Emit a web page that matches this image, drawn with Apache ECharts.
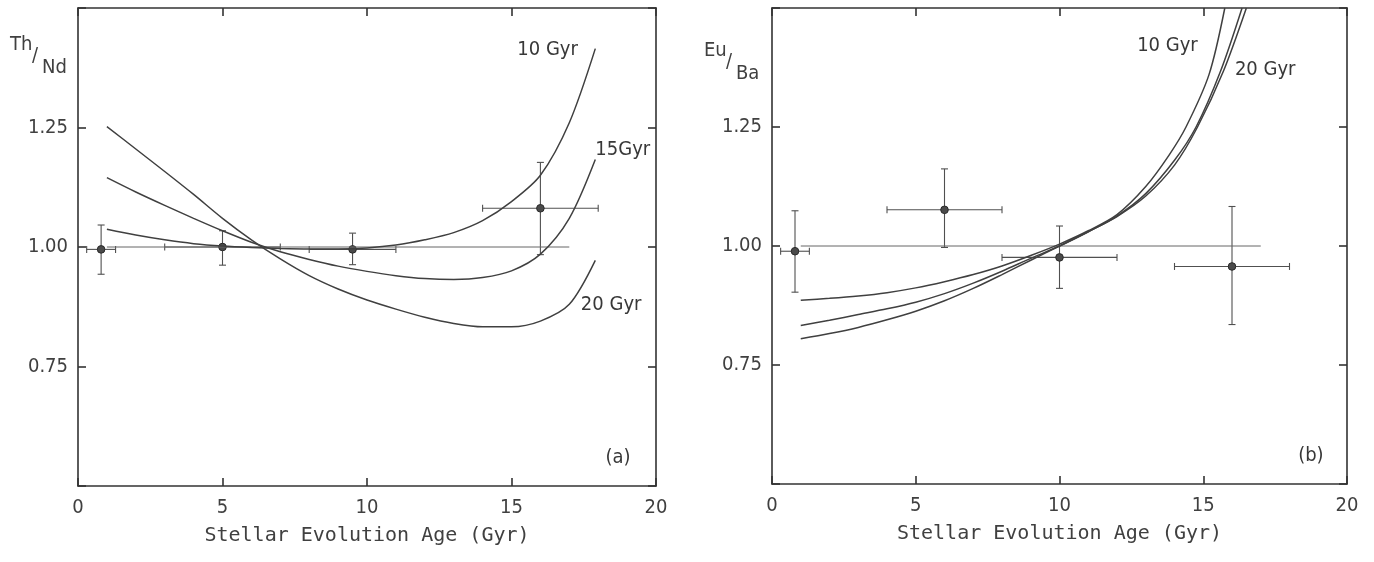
<!DOCTYPE html>
<html>
<head>
<meta charset="utf-8">
<script src="https://cdn.jsdelivr.net/npm/echarts@6/dist/echarts.min.js"></script>
<style>
    html, body { margin: 0; padding: 0; background: #fff; }
    #chart { width: 1374px; height: 562px; }
</style>
</head>
<body>
<div id="chart"></div>
<script>
    // ---- data ----
    // panel (a): Th/Nd
    var aPtX   = [0.8, 5, 9.5, 16];
    var aPtY   = [0.995, 1.0, 0.995, 1.081];
    var aPtXlo = [0.3, 3, 8, 14];
    var aPtXhi = [1.3, 7, 11, 18];
    var aPtYlo = [0.943, 0.962, 0.963, 0.984];
    var aPtYhi = [1.046, 1.034, 1.029, 1.177];

    var aAge   = [1, 2, 3, 4, 5, 6, 7, 8, 9, 10, 11, 12, 13, 14, 15, 16, 17, 17.9];
    var a10Gyr = [1.037, 1.025, 1.015, 1.007, 1.002, 0.999, 0.997, 0.996, 0.996, 0.998, 1.004, 1.015, 1.03, 1.055, 1.095, 1.15, 1.26, 1.415];
    var a15Gyr = [1.145, 1.115, 1.087, 1.06, 1.034, 1.01, 0.99, 0.974, 0.96, 0.949, 0.94, 0.934, 0.932, 0.936, 0.95, 0.985, 1.06, 1.183];
    var a20Gyr = [1.252, 1.205, 1.158, 1.11, 1.06, 1.015, 0.975, 0.94, 0.912, 0.889, 0.87, 0.853, 0.84, 0.833, 0.833, 0.845, 0.88, 0.972];

    // panel (b): Eu/Ba
    var bPtX   = [0.8, 6, 10, 16];
    var bPtY   = [0.989, 1.076, 0.976, 0.957];
    var bPtXlo = [0.3, 4, 8, 14];
    var bPtXhi = [1.3, 8, 12, 18];
    var bPtYlo = [0.903, 0.997, 0.911, 0.835];
    var bPtYhi = [1.074, 1.162, 1.042, 1.083];

    var bAgeA = [1, 2, 3, 4, 5, 6, 7, 8, 9, 10, 11, 12, 13, 13.8, 14.4, 15.2, 15.75];
    var bValA = [0.886, 0.89, 0.895, 0.902, 0.912, 0.925, 0.94, 0.958, 0.98, 1.004, 1.032, 1.066, 1.125, 1.19, 1.25, 1.36, 1.5];
    var bAgeB = [1, 2, 3, 4, 5, 6, 7, 8, 9, 10, 11, 12, 13, 14, 14.75, 15.6, 16.35];
    var bValB = [0.833, 0.844, 0.856, 0.868, 0.882, 0.9, 0.922, 0.947, 0.974, 1.0, 1.03, 1.063, 1.11, 1.18, 1.25, 1.367, 1.5];
    var bAgeC = [1, 2, 3, 4, 5, 6, 7, 8, 9, 10, 11, 12, 13, 14, 14.8, 15.7, 16.5];
    var bValC = [0.805, 0.816, 0.829, 0.845, 0.863, 0.885, 0.911, 0.94, 0.97, 1.0, 1.03, 1.062, 1.105, 1.17, 1.25, 1.367, 1.5];

    // reference line at 1.00
    var refAge = [1, 17];
    var refVal = [1.0, 1.0];

    // curve labels
    var aNoteText = ['10 Gyr', '15Gyr', '20 Gyr', '(a)'];
    var aNoteX    = [15.2, 17.9, 17.4, 18.25];
    var aNoteY    = [1.412, 1.204, 0.88, 0.56];
    var bNoteText = ['10 Gyr', '20 Gyr', '(b)'];
    var bNoteX    = [12.7, 16.1, 18.3];
    var bNoteY    = [1.42, 1.37, 0.56];

    var xTicks = { min: 0, max: 20, interval: 5 };
    var yTicks = { min: 0.5, max: 1.5, interval: 0.25 };

    // ---- helpers ----
    var FONT = "'DejaVu Sans Condensed', 'Liberation Sans Narrow', 'DejaVu Sans', sans-serif";
    var INK = '#333';
    var TXT = '#404040';

    function zip(xs, ys) {
        return xs.map(function (x, i) { return [x, ys[i]]; });
    }

    function xAxis(grid, pos, labels) {
        return {
            type: 'value', gridIndex: grid, position: pos,
            min: xTicks.min, max: xTicks.max, interval: xTicks.interval,
            name: labels ? 'Stellar Evolution Age (Gyr)' : '',
            nameLocation: 'middle', nameGap: 40,
            nameTextStyle: { fontFamily: "'DejaVu Sans Mono', monospace", fontSize: 20, color: TXT },
            axisLine: { show: true, onZero: false, lineStyle: { color: INK, width: 1.6 } },
            axisTick: { show: true, inside: true, length: 8, lineStyle: { color: INK, width: 1.6 } },
            axisLabel: { show: labels, margin: 12, color: TXT, fontFamily: FONT, fontSize: 20 },
            splitLine: { show: false }
        };
    }

    function yAxis(grid, pos, labels) {
        return {
            type: 'value', gridIndex: grid, position: pos,
            min: yTicks.min, max: yTicks.max, interval: yTicks.interval,
            axisLine: { show: true, onZero: false, lineStyle: { color: INK, width: 1.6 } },
            axisTick: { show: true, inside: true, length: 8, lineStyle: { color: INK, width: 1.6 } },
            axisLabel: {
                show: labels, margin: 10, color: TXT, fontFamily: FONT, fontSize: 20,
                formatter: function (v) {
                    return (v <= yTicks.min || v >= yTicks.max) ? '' : v.toFixed(2);
                }
            },
            splitLine: { show: false }
        };
    }

    function curve(ax, xs, ys) {
        return {
            type: 'line', xAxisIndex: ax, yAxisIndex: ax,
            data: zip(xs, ys), smooth: 0.3,
            symbol: 'none', silent: true,
            lineStyle: { color: '#404040', width: 1.5 }
        };
    }

    function refLine(ax) {
        return {
            type: 'line', xAxisIndex: ax, yAxisIndex: ax,
            data: zip(refAge, refVal), symbol: 'none', silent: true,
            lineStyle: { color: '#666', width: 1 }
        };
    }

    function renderErr(params, api) {
        var c = api.coord([api.value(0), api.value(1)]);
        var l = api.coord([api.value(2), api.value(1)]);
        var r = api.coord([api.value(3), api.value(1)]);
        var b = api.coord([api.value(0), api.value(4)]);
        var t = api.coord([api.value(0), api.value(5)]);
        var cap = 3.5;
        var st = { stroke: '#505050', lineWidth: 1.1 };
        function seg(x1, y1, x2, y2) {
            return { type: 'line', shape: { x1: x1, y1: y1, x2: x2, y2: y2 }, style: st };
        }
        return {
            type: 'group',
            children: [
                seg(l[0], l[1], r[0], r[1]),
                seg(l[0], l[1] - cap, l[0], l[1] + cap),
                seg(r[0], r[1] - cap, r[0], r[1] + cap),
                seg(b[0], b[1], t[0], t[1]),
                seg(b[0] - cap, b[1], b[0] + cap, b[1]),
                seg(t[0] - cap, t[1], t[0] + cap, t[1]),
                { type: 'circle', shape: { cx: c[0], cy: c[1], r: 3.8 },
                  style: { fill: '#4a4a4a', stroke: '#2a2a2a', lineWidth: 1 } }
            ]
        };
    }

    function errSeries(ax, xs, ys, xlo, xhi, ylo, yhi) {
        return {
            type: 'custom', xAxisIndex: ax, yAxisIndex: ax, silent: true,
            renderItem: renderErr,
            encode: { x: [0, 2, 3], y: [1, 4, 5] },
            data: xs.map(function (x, i) { return [x, ys[i], xlo[i], xhi[i], ylo[i], yhi[i]]; })
        };
    }

    function notes(ax, texts, xs, ys) {
        return {
            type: 'scatter', xAxisIndex: ax, yAxisIndex: ax, silent: true,
            symbolSize: 0,
            itemStyle: { opacity: 1 },
            data: texts.map(function (t, i) { return { value: [xs[i], ys[i]], name: t }; }),
            label: {
                show: true, position: 'right', distance: 0, opacity: 1,
                formatter: '{b}', color: '#383838', fontFamily: FONT, fontSize: 20
            }
        };
    }

    function txt(x, y, s) {
        return {
            type: 'text', x: x, y: y,
            style: { text: s, fill: TXT, fontFamily: FONT, fontSize: 20, verticalAlign: 'middle', align: 'left' }
        };
    }

    function ratioLabel(x, y, a, b) {
        return [txt(x, y, a), txt(x + 22, y + 11, '/'), txt(x + 32, y + 23, b)];
    }

    var myChart = echarts.init(document.getElementById('chart'), null, { renderer: 'canvas' });

    var option = {
        backgroundColor: '#fff',
        animation: false,
        grid: [
            { left: 78, top: 8, width: 578, height: 478 },
            { left: 772, top: 8, width: 575, height: 476 }
        ],
        xAxis: [xAxis(0, 'bottom', true), xAxis(1, 'bottom', true), xAxis(0, 'top', false), xAxis(1, 'top', false)],
        yAxis: [yAxis(0, 'left', true), yAxis(1, 'left', true), yAxis(0, 'right', false), yAxis(1, 'right', false)],
        graphic: ratioLabel(10, 45, 'Th', 'Nd').concat(ratioLabel(704, 51, 'Eu', 'Ba')),
        series: [
            refLine(0),
            curve(0, aAge, a10Gyr),
            curve(0, aAge, a15Gyr),
            curve(0, aAge, a20Gyr),
            errSeries(0, aPtX, aPtY, aPtXlo, aPtXhi, aPtYlo, aPtYhi),
            notes(0, aNoteText, aNoteX, aNoteY),

            refLine(1),
            curve(1, bAgeA, bValA),
            curve(1, bAgeB, bValB),
            curve(1, bAgeC, bValC),
            errSeries(1, bPtX, bPtY, bPtXlo, bPtXhi, bPtYlo, bPtYhi),
            notes(1, bNoteText, bNoteX, bNoteY)
        ]
    };
    myChart.setOption(option);
</script>
</body>
</html>
